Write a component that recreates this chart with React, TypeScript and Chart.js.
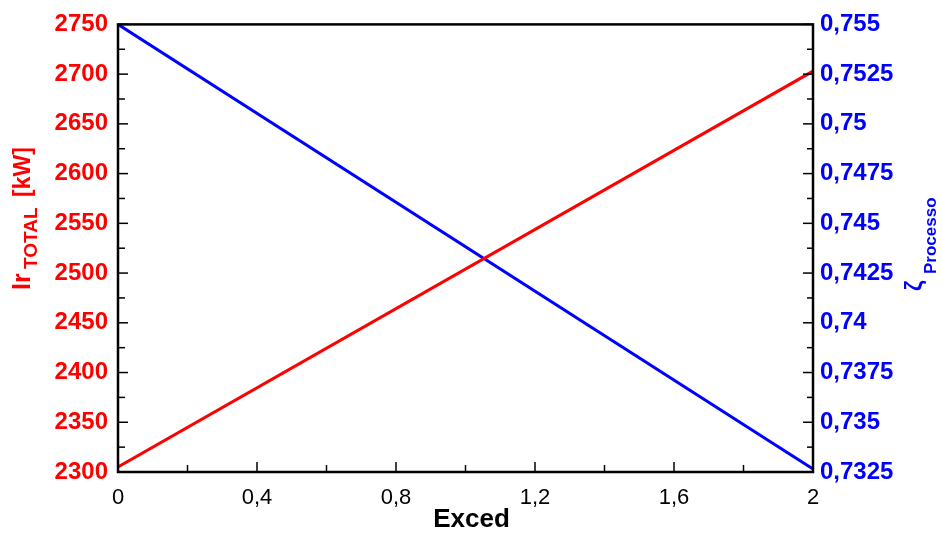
import React, { useEffect, useRef } from "react";
import { Chart, registerables } from "chart.js";

Chart.register(...registerables);

// ---- data ----
const excedValues = [0, 2];
const irTotalValues = [2305, 2703];
const zetaValues = [0.755, 0.73265];

const xTitle = "Exced";
const leftTitleMain = "Ir";
const leftTitleSub = "TOTAL";
const leftTitleUnit = "[kW]";
const rightTitleMain = "ζ";
const rightTitleSub = "Processo";

const RED = "#ff0000";
const BLUE = "#0000ff";
const FONT = "'Liberation Sans', Arial, Helvetica, sans-serif";

const fmt = (v: number, digits: number) =>
  String(parseFloat(Number(v).toFixed(digits))).replace(".", ",");

const framePlugin = {
  id: "frameTicks",
  afterDatasetsDraw(chart: any) {
    const { ctx, chartArea: a, scales } = chart;
    const sx = scales.x, sy = scales.y, sy1 = scales.y1;
    ctx.save();
    ctx.strokeStyle = "#000";
    ctx.lineWidth = 1.5;
    const line = (x1: number, y1: number, x2: number, y2: number) => {
      ctx.beginPath();
      ctx.moveTo(x1, y1);
      ctx.lineTo(x2, y2);
      ctx.stroke();
    };
    const xt = sx.ticks.map((t: any) => t.value);
    xt.forEach((v: number, i: number) => {
      const p = sx.getPixelForValue(v);
      line(p, a.bottom, p, a.bottom - 10);
      if (i < xt.length - 1) {
        const m = sx.getPixelForValue((v + xt[i + 1]) / 2);
        line(m, a.bottom, m, a.bottom - 7);
      }
    });
    const yt = sy.ticks.map((t: any) => t.value);
    yt.forEach((v: number, i: number) => {
      const p = sy.getPixelForValue(v);
      line(a.left, p, a.left + 10, p);
      if (i < yt.length - 1) {
        const m = sy.getPixelForValue((v + yt[i + 1]) / 2);
        line(a.left, m, a.left + 7, m);
      }
    });
    const y1t = sy1.ticks.map((t: any) => t.value);
    y1t.forEach((v: number, i: number) => {
      const p = sy1.getPixelForValue(v);
      line(a.right, p, a.right - 10, p);
      if (i < y1t.length - 1) {
        const m = sy1.getPixelForValue((v + y1t[i + 1]) / 2);
        line(a.right, m, a.right - 6, m);
      }
    });
    ctx.lineWidth = 2.5;
    ctx.strokeRect(a.left, a.top, a.right - a.left, a.bottom - a.top);
    ctx.restore();
  },
  afterDraw(chart: any) {
    const { ctx, chartArea: a } = chart;
    ctx.save();
    ctx.fillStyle = "#000";
    ctx.font = `bold 26px ${FONT}`;
    ctx.textAlign = "center";
    ctx.textBaseline = "alphabetic";
    ctx.fillText(xTitle, (a.left + a.right) / 2 + 6, 527);

    ctx.save();
    ctx.translate(30, 290);
    ctx.rotate(-Math.PI / 2);
    ctx.fillStyle = RED;
    ctx.textAlign = "left";
    ctx.font = `bold 25px ${FONT}`;
    ctx.fillText(leftTitleMain, 0, 0);
    ctx.font = `bold 19px ${FONT}`;
    ctx.fillText(leftTitleSub, 21, 7);
    ctx.font = `bold 23px ${FONT}`;
    ctx.fillText(leftTitleUnit, 93, 0);
    ctx.restore();

    ctx.save();
    ctx.translate(922, 291);
    ctx.rotate(-Math.PI / 2);
    ctx.fillStyle = BLUE;
    ctx.textAlign = "left";
    ctx.font = `bold 23px ${FONT}`;
    ctx.fillText(rightTitleMain, 0, 0);
    ctx.font = `bold 17px ${FONT}`;
    ctx.fillText(rightTitleSub, 17, 14);
    ctx.restore();

    ctx.restore();
  },
};

export default function App() {
  const ref = useRef<HTMLCanvasElement | null>(null);

  useEffect(() => {
    if (!ref.current) return;
    const chart = new Chart(ref.current, {
      type: "line",
      data: {
        datasets: [
          {
            label: "Ir TOTAL",
            data: excedValues.map((x, i) => ({ x, y: irTotalValues[i] })),
            borderColor: RED,
            backgroundColor: RED,
            borderWidth: 3,
            pointRadius: 0,
            yAxisID: "y",
            tension: 0,
          },
          {
            label: "ζ Processo",
            data: excedValues.map((x, i) => ({ x, y: zetaValues[i] })),
            borderColor: BLUE,
            backgroundColor: BLUE,
            borderWidth: 3,
            pointRadius: 0,
            yAxisID: "y1",
            tension: 0,
          },
        ],
      },
      options: {
        responsive: false,
        animation: false,
        devicePixelRatio: 1,
        layout: { padding: { top: 22, left: 0, right: 0, bottom: 0 } },
        plugins: {
          legend: { display: false },
          tooltip: { enabled: false },
          title: { display: false },
        },
        scales: {
          x: {
            type: "linear",
            position: "bottom",
            min: 0,
            max: 2,
            grid: { display: false, drawTicks: false },
            border: { display: false },
            ticks: {
              stepSize: 0.4,
              padding: 13,
              color: "#000",
              font: { family: FONT, size: 22, weight: "normal" },
              maxRotation: 0,
              callback: (v: any) => fmt(v, 1),
            },
            afterFit: (s: any) => {
              s.height = 64;
            },
          },
          y: {
            type: "linear",
            position: "left",
            min: 2300,
            max: 2750,
            grid: { display: false, drawTicks: false },
            border: { display: false },
            ticks: {
              stepSize: 50,
              padding: 10,
              color: RED,
              font: { family: FONT, size: 24, weight: "bold" },
              callback: (v: any) => String(Math.round(v)),
            },
            afterFit: (s: any) => {
              s.width = 118;
            },
          },
          y1: {
            type: "linear",
            position: "right",
            min: 0.7325,
            max: 0.755,
            grid: { display: false, drawTicks: false },
            border: { display: false },
            ticks: {
              stepSize: 0.0025,
              padding: 7,
              color: BLUE,
              font: { family: FONT, size: 24, weight: "bold" },
              callback: (v: any) => fmt(v, 4),
            },
            afterFit: (s: any) => {
              s.width = 129;
            },
          },
        },
      },
      plugins: [framePlugin],
    } as any);
    return () => chart.destroy();
  }, []);

  return (
    <div style={{ position: "absolute", left: 0, top: 0, width: 942, height: 536, background: "#fff" }}>
      <canvas ref={ref} width={942} height={536} style={{ display: "block", width: 942, height: 536 }} />
    </div>
  );
}
